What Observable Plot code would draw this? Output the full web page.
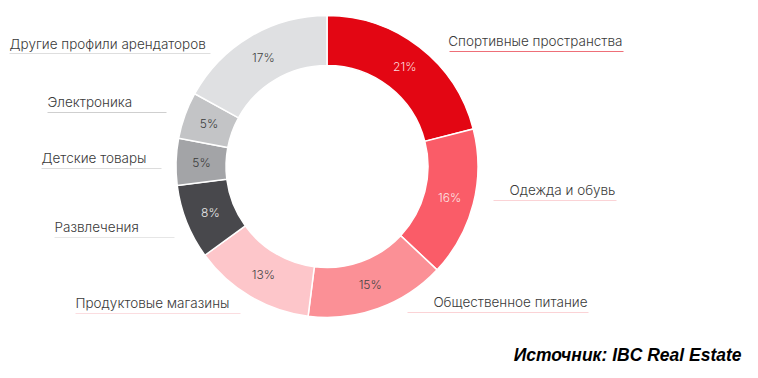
<!DOCTYPE html>
<html><head><meta charset="utf-8">
<script src="https://cdn.jsdelivr.net/npm/d3@7"></script>
<script src="https://cdn.jsdelivr.net/npm/@observablehq/plot@0.6"></script>
<style>body{margin:0;background:#fff}</style>
</head><body><div id="chart"></div>
<script>
// ---- data ----
const categories = ["Спортивные пространства","Одежда и обувь","Общественное питание","Продуктовые магазины","Развлечения","Детские товары","Электроника","Другие профили арендаторов"];
const shares = [21,16,15,13,8,5,5,17];
const caption = "Источник: IBC Real Estate";

// ---- styles ----
const sliceColors = ["#e30613","#fa5c68","#fb9096","#fdc6ca","#48484c","#a3a4a7","#c3c4c6","#dfe0e2"];
const percentColors = ["#fcd9dc","#fde3e5","#444444","#444444","#e8e8e8","#3a3a3a","#3a3a3a","#444444"];
const underlineColors = ["#ee6f78","#fbd3d6","#fbd3d6","#fbdde0","#e6e6e6","#dcdcdc","#cfcfcf","#dedede"];

// ---- layout (pixel units) ----
const center = [327, 166.5];
const outerR = 151, innerR = 101;
const labelX = [622, 615, 587, 75, 54, 41, 47, 9];
const labelY = [41, 190, 302, 303, 227, 158, 102, 44];
const labelAnchor = ["end","end","end","start","start","start","start","start"];
const lineX1 = [449, 493, 407, 75, 54, 41, 47, 9];
const lineX2 = [623, 616, 588, 240, 174, 161, 166, 210];
const lineY = [51, 200, 312, 313, 237, 168, 112, 53];

const pieData = d3.pie().sort(null).value(d => d)(shares);
const rows = categories.map((c, i) => {
  const mid = (pieData[i].startAngle + pieData[i].endAngle) / 2;
  const rm = (outerR + innerR) / 2;
  return {
    category: c, share: shares[i],
    px: center[0] + rm * Math.sin(mid), py: center[1] - rm * Math.cos(mid),
    lx: labelX[i], ly: labelY[i], anchor: labelAnchor[i],
    x1: lineX1[i], x2: lineX2[i], yl: lineY[i],
    pc: percentColors[i], uc: underlineColors[i]
  };
});

function donut(index, scales) {
  const {x, y} = scales;
  const cx = x(center[0]), cy = y(center[1]);
  const ro = x(center[0] + outerR) - cx, ri = x(center[0] + innerR) - cx;
  const arc = d3.arc().innerRadius(ri).outerRadius(ro);
  const g = d3.create("svg:g").attr("transform", `translate(${cx},${cy})`);
  g.selectAll("path").data(pieData).join("path")
    .attr("d", arc).attr("fill", (d, i) => sliceColors[i])
    .attr("stroke", "white").attr("stroke-width", 1.5);
  return g.node();
}

const font = "Inter, 'Open Sans', sans-serif";
const chart = Plot.plot({
  width: 758, height: 378,
  margin: 0,
  x: {domain: [0, 758], range: [0, 758], axis: null},
  y: {domain: [0, 378], range: [0, 378], axis: null},
  style: {background: "white"},
  marks: [
    donut,
    Plot.text(rows, {x: "px", y: "py", text: d => d.share + "%", fill: d => d.pc, fontSize: 12, fontWeight: 300, fontFamily: font}),
    Plot.link(rows, {x1: "x1", x2: "x2", y1: "yl", y2: "yl", stroke: d => d.uc, strokeWidth: 1}),
    Plot.text(rows.filter(d => d.anchor === "start"), {x: "lx", y: "ly", text: "category", textAnchor: "start", fill: "#3a3a3a", fontSize: 13.5, fontWeight: 300, fontFamily: font}),
    Plot.text(rows.filter(d => d.anchor === "end"), {x: "lx", y: "ly", text: "category", textAnchor: "end", fill: "#3a3a3a", fontSize: 13.5, fontWeight: 300, fontFamily: font}),
    Plot.text([caption], {x: [741], y: [355], text: d => d, textAnchor: "end", fontWeight: "bold", fontStyle: "italic", fontFamily: "'Liberation Sans', Arial, sans-serif", fontSize: 17.5, fill: "#000"})
  ]
});
document.getElementById("chart").append(chart);
</script>
</body></html>
